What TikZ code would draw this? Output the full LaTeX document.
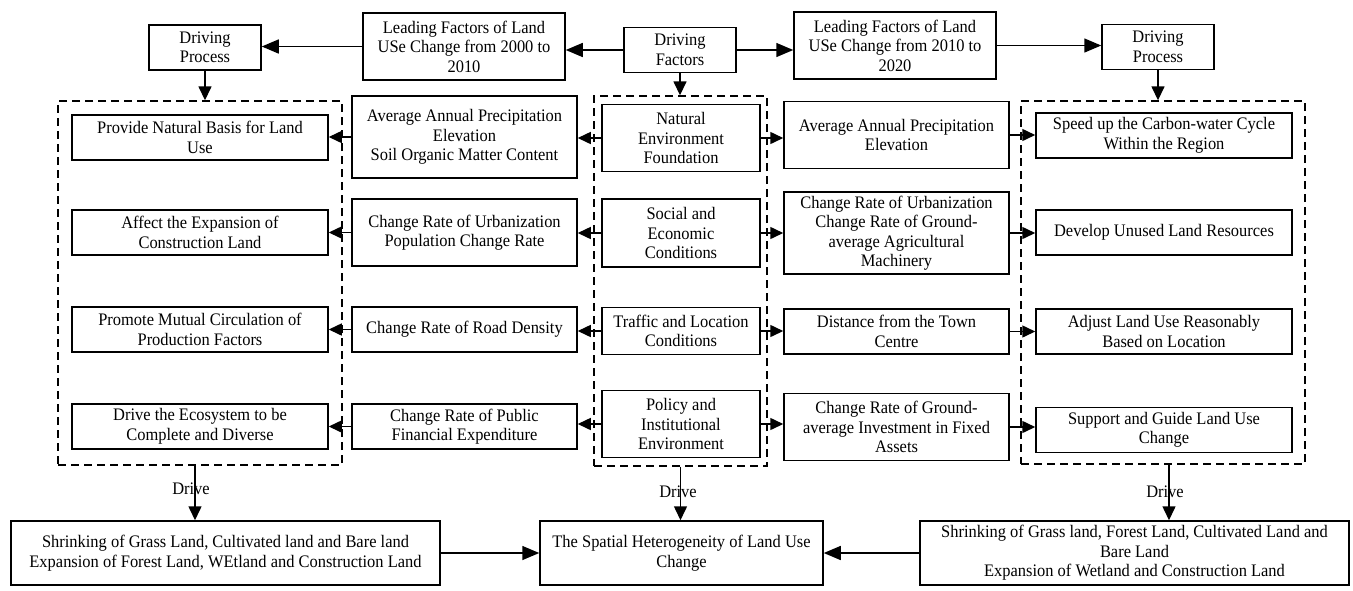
\documentclass[tikz,border=0pt]{standalone}
\usepackage{fontspec}
\setmainfont{Liberation Serif}[FakeStretch=0.935]
\usetikzlibrary{arrows.meta}
\begin{document}
\begin{tikzpicture}[x=1pt,y=-1pt,
  box/.style={draw, line width=1.5pt, align=center, inner sep=0pt, font=\fontsize{17.6}{19.5}\selectfont},
  dbox/.style={draw, line width=1.4pt, dash pattern=on 8pt off 5pt, inner sep=0pt},
  arr/.style={line width=1.5pt, -{Triangle[length=17pt,width=14pt]}},
  darr/.style={line width=1.5pt, -{Triangle[length=14pt,width=13pt]}},
  sarr/.style={line width=1.5pt, -{Triangle[length=13pt,width=12pt]}},
  lbl/.style={font=\fontsize{17.6}{19.5}\selectfont, inner sep=0pt}]
\fill[white] (0,0) rectangle (1353,590);
\useasboundingbox (0,0) rectangle (1353,590);

% top row
\node[box, minimum width=112pt, minimum height=45pt] (dpL) at (205,47.5) {Driving\\Process};
\node[box, minimum width=202pt, minimum height=67pt] (lf1) at (464,46.5) {Leading Factors of Land\\USe Change from 2000 to\\2010};
\node[box, minimum width=112pt, minimum height=45pt] (df) at (680,50) {Driving\\Factors};
\node[box, minimum width=202pt, minimum height=67pt] (lf2) at (895,45.5) {Leading Factors of Land\\USe Change from 2010 to\\2020};
\node[box, minimum width=112pt, minimum height=45pt] (dpR) at (1158,47) {Driving\\Process};

% dashed groups
\node[dbox, minimum width=284pt, minimum height=364pt] (dl) at (200,283) {};
\node[dbox, minimum width=173pt, minimum height=370pt] (dm) at (680.5,281) {};
\node[dbox, minimum width=284pt, minimum height=363pt] (dr) at (1163,282.5) {};

% left column (driving process 2000-2010)
\node[box, minimum width=256pt, minimum height=45pt] (prov) at (200,137.5) {Provide Natural Basis for Land\\Use};
\node[box, minimum width=256pt, minimum height=45pt] (aff) at (200,232.5) {Affect the Expansion of\\Construction Land};
\node[box, minimum width=256pt, minimum height=45pt] (prom) at (200,329.5) {Promote Mutual Circulation of\\Production Factors};
\node[box, minimum width=256pt, minimum height=45pt] (deco) at (200,426.5) {Drive the Ecosystem to be\\Complete and Diverse};

% left-middle column (factors 2000-2010)
\node[box, minimum width=225pt, minimum height=82pt] (avgL) at (464.5,137) {Average Annual Precipitation\\Elevation\\Soil Organic Matter Content};
\node[box, minimum width=225pt, minimum height=67pt] (urbL) at (464.5,232.5) {Change Rate of Urbanization\\Population Change Rate};
\node[box, minimum width=225pt, minimum height=45pt] (road) at (464.5,329.5) {Change Rate of Road Density};
\node[box, minimum width=225pt, minimum height=45pt] (pub) at (464.5,426.5) {Change Rate of Public\\Financial Expenditure};

% middle column (driving factors)
\node[box, minimum width=158pt, minimum height=67pt] (nat) at (681,138) {Natural\\Environment\\Foundation};
\node[box, minimum width=158pt, minimum height=68pt] (soc) at (681,233) {Social and\\Economic\\Conditions};
\node[box, minimum width=158pt, minimum height=47pt] (traf) at (681,331) {Traffic and Location\\Conditions};
\node[box, minimum width=158pt, minimum height=67pt] (pol) at (681,424) {Policy and\\Institutional\\Environment};

% right-middle column (factors 2010-2020)
\node[box, minimum width=225pt, minimum height=67pt] (avgR) at (896.5,135) {Average Annual Precipitation\\Elevation};
\node[box, minimum width=225pt, minimum height=82pt] (urbR) at (896.5,233) {Change Rate of Urbanization\\Change Rate of Ground-\\average Agricultural\\Machinery};
\node[box, minimum width=225pt, minimum height=45pt] (dist) at (896.5,331.5) {Distance from the Town\\Centre};
\node[box, minimum width=225pt, minimum height=67pt] (inv) at (896.5,427) {Change Rate of Ground-\\average Investment in Fixed\\Assets};

% right column (driving process 2010-2020)
\node[box, minimum width=256pt, minimum height=45pt] (speed) at (1164,135.5) {Speed up the Carbon-water Cycle\\Within the Region};
\node[box, minimum width=256pt, minimum height=45pt] (dev) at (1164,232.5) {Develop Unused Land Resources};
\node[box, minimum width=256pt, minimum height=45pt] (adj) at (1164,331.5) {Adjust Land Use Reasonably\\Based on Location};
\node[box, minimum width=256pt, minimum height=45pt] (sup) at (1164,430) {Support and Guide Land Use\\Change};

% bottom row
\node[box, minimum width=429pt, minimum height=64pt] (botL) at (225.5,553) {Shrinking of Grass Land, Cultivated land and Bare land\\Expansion of Forest Land, WEtland and Construction Land};
\node[box, minimum width=283pt, minimum height=64pt] (botM) at (681.5,553) {The Spatial Heterogeneity of Land Use\\Change};
\node[box, minimum width=429pt, minimum height=64pt] (botR) at (1134.5,553) {Shrinking of Grass land, Forest Land, Cultivated Land and\\Bare Land\\Expansion of Wetland and Construction Land};

% top arrows
\draw[arr] (df.west) -- (df.west -| lf1.east);
\draw[arr] (lf1.west) -- (lf1.west -| dpL.east);
\draw[arr] (df.east) -- (df.east -| lf2.west);
\draw[arr] (lf2.east) -- (lf2.east -| dpR.west);
\draw[darr] (dpL.south) -- (dpL.south |- dl.north);
\draw[darr] (df.south) -- (df.south |- dm.north);
\draw[darr] (dpR.south) -- (dpR.south |- dr.north);

% row arrows, left side
\draw[sarr] (nat.west) -- (nat.west -| avgL.east);
\draw[sarr] (avgL.west) -- (avgL.west -| prov.east);
\draw[sarr] (soc.west) -- (soc.west -| urbL.east);
\draw[sarr] (urbL.west) -- (urbL.west -| aff.east);
\draw[sarr] (traf.west) -- (traf.west -| road.east);
\draw[sarr] (road.west) -- (road.west -| prom.east);
\draw[sarr] (pol.west) -- (pol.west -| pub.east);
\draw[sarr] (pub.west) -- (pub.west -| deco.east);

% row arrows, right side
\draw[sarr] (nat.east) -- (nat.east -| avgR.west);
\draw[sarr] (avgR.east) -- (avgR.east -| speed.west);
\draw[sarr] (soc.east) -- (soc.east -| urbR.west);
\draw[sarr] (urbR.east) -- (urbR.east -| dev.west);
\draw[sarr] (traf.east) -- (traf.east -| dist.west);
\draw[sarr] (dist.east) -- (dist.east -| adj.west);
\draw[sarr] (pol.east) -- (pol.east -| inv.west);
\draw[sarr] (inv.east) -- (inv.east -| sup.west);

% drive arrows
\draw[darr] ([xshift=-5pt]dl.south) -- ([xshift=-5pt]dl.south |- botL.north);
\draw[darr] (dm.south) -- (dm.south |- botM.north);
\draw[darr] ([xshift=6pt]dr.south) -- ([xshift=6pt]dr.south |- botR.north);
\node[lbl] (drL) at (191,489) {Drive};
\node[lbl] (drM) at (678,492) {Drive};
\node[lbl] (drR) at (1165,492) {Drive};

% bottom arrows
\draw[arr] (botL.east) -- (botM.west);
\draw[arr] (botR.west) -- (botM.east);
\end{tikzpicture}
\end{document}
